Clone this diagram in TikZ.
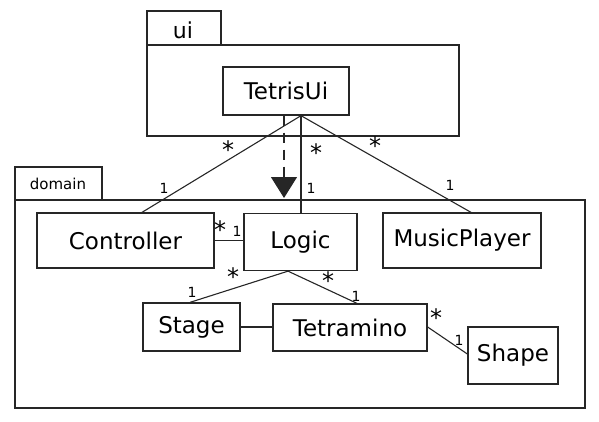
\documentclass[tikz,border=0pt]{standalone}
\usepackage{fontspec}
\setmainfont{DejaVu Sans}
\usetikzlibrary{arrows.meta}
\tikzset{
  pkg/.style={draw=black!85, line width=1.3pt},
  cls/.style={draw=black!85, line width=1.3pt, inner sep=0pt, font=\fontsize{23}{23}\selectfont},
  conn/.style={draw=black!85, line width=1.1pt},
  mult/.style={inner sep=0pt, font=\fontsize{14}{14}\selectfont},
  star/.style={inner sep=0pt, font=\fontsize{24}{24}\selectfont},
  pkgname/.style={inner sep=0pt}
}
\begin{document}
\begin{tikzpicture}[x=1pt,y=-1pt]
\useasboundingbox (0,0) rectangle (599,421);
% packages
\draw[pkg] (147,11) rectangle (221,45);
\draw[pkg] (147,45) rectangle (459,136);
\node[pkgname, font=\fontsize{22}{22}\selectfont] (uilbl) at (183,30) {ui};
\draw[pkg] (15,167) rectangle (102,200);
\draw[pkg] (15,200) rectangle (585,408);
\node[pkgname, font=\fontsize{15}{15}\selectfont] (domlbl) at (58,184) {domain};
% classes
\node[cls, minimum width=126pt, minimum height=48pt] (tui) at (286,91) {TetrisUi};
\node[cls, minimum width=177pt, minimum height=55pt] (ctrl) at (125.5,240.5) {Controller};
\node[cls, minimum width=113pt, minimum height=57pt] (logic) at (300.5,242) {Logic};
\node[cls, minimum width=158pt, minimum height=55pt] (mp) at (462,240.5) {MusicPlayer};
\node[cls, minimum width=97pt, minimum height=48pt] (stage) at (191.5,327) {Stage};
\node[cls, minimum width=154pt, minimum height=47pt] (tetra) at (350,327.5) {Tetramino};
\node[cls, minimum width=90pt, minimum height=57pt] (shape) at (513,355.5) {Shape};
% connectors
\draw[conn] ([xshift=15pt]tui.south) -- ([xshift=16.5pt]ctrl.north);
\draw[conn] ([xshift=15pt]tui.south) -- ([xshift=0.5pt]logic.north);
\draw[conn] ([xshift=15pt]tui.south) -- ([xshift=9pt]mp.north);
\draw[conn] (ctrl.east) -- (logic.west |- ctrl.east);
\draw[conn] ([xshift=-12.5pt]logic.south) -- ([xshift=-1.5pt]stage.north);
\draw[conn] ([xshift=-12.5pt]logic.south) -- ([xshift=7pt]tetra.north);
\draw[conn] (stage.east) -- (tetra.west |- stage.east);
\draw[conn] ([yshift=0.5pt]tetra.east) -- ([yshift=1.5pt]shape.west);
\coordinate (deptip) at (284,198);
\draw[conn, dash pattern=on 10pt off 7pt, -{Triangle[width=26pt,length=21pt]}] ([xshift=-2pt]tui.south) -- (deptip);
% multiplicities
\node[star] (m1) at (228,150) {*};
\node[mult] (m2) at (164,188) {1};
\node[star] (m3) at (316,153) {*};
\node[mult] (m4) at (311,188) {1};
\node[star] (m5) at (375,146) {*};
\node[mult] (m6) at (450,185) {1};
\node[star] (m7) at (220,230) {*};
\node[mult] (m8) at (237,231) {1};
\node[star] (m9) at (233,277) {*};
\node[mult] (m10) at (192,292) {1};
\node[star] (m11) at (328,281) {*};
\node[mult] (m12) at (356,296) {1};
\node[star] (m13) at (436,318) {*};
\node[mult] (m14) at (459,340) {1};
\end{tikzpicture}
\end{document}
